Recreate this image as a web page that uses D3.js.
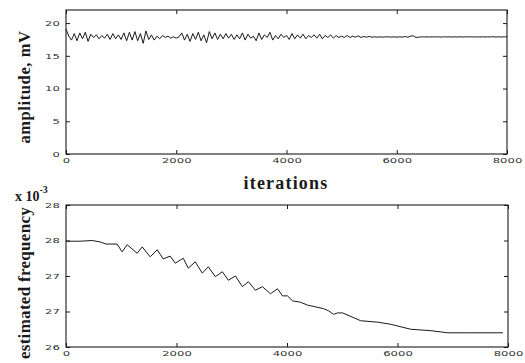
<!DOCTYPE html>
<html><head><meta charset="utf-8">
<script src="https://cdn.jsdelivr.net/npm/d3@7"></script>
<style>body{margin:0;background:#fff} svg{display:block}</style>
</head><body>
<svg id="c" width="525" height="363"></svg>
<script>
// ---- data ----
const iterTicks = [0, 2000, 4000, 6000, 8000];
const ampTicks = [0, 5, 10, 15, 20];
const freqTicks = [26, 26.5, 27, 27.5, 28];
const freqTickLabels = ["26", "27", "27", "28", "28"];
const ampIterStep = 50;
const ampValues = [
 19.1,18.0,17.4,18.4,17.3,18.5,17.6,18.6,17.2,18.3,
 17.8,18.2,17.6,18.1,17.7,18.3,17.5,18.4,17.6,18.2,
 17.5,18.5,17.3,18.6,17.4,18.7,17.3,18.4,16.9,18.8,
 17.5,18.2,17.4,18.0,17.6,18.1,17.8,18.0,17.7,17.9,
 17.7,17.9,18.5,17.4,18.3,17.2,18.4,17.5,18.6,17.3,
 18.2,17.0,18.7,17.6,18.5,17.5,18.3,17.6,18.4,17.7,
 18.3,17.5,18.2,17.6,18.5,17.4,18.3,17.7,18.0,17.3,
 18.5,17.5,18.2,17.8,18.6,17.4,18.1,17.6,18.3,17.8,
 18.1,17.5,18.4,17.6,18.2,17.7,18.3,17.6,18.1,17.8,
 18.2,17.7,18.3,17.6,18.1,17.8,18.2,17.7,18.1,17.8,
 18.0,17.8,18.1,17.8,18.0,17.85,18.05,17.8,17.95,17.85,
 17.95,17.85,17.9,17.85,17.9,17.85,17.9,17.9,17.85,17.9,
 17.85,17.9,17.85,17.95,17.85,18.0,18.05,17.8,17.85,17.9,
 17.88,17.9,17.87,17.9,17.88,17.9,17.86,17.9,17.88,17.9,
 17.87,17.9,17.88,17.9,17.87,17.9,17.88,17.91,17.87,17.9,
 17.88,17.9,17.87,17.9,17.88,17.92,17.87,17.9,17.88,17.9,
 17.89
];
const freqIter = [0,254,472,617,726,925,1016,1107,1288,1379,1524,1651,1760,1887,1977,2122,2213,2340,2467,2576,2703,2830,2939,3066,3193,3301,3428,3555,3701,3828,3918,4009,4100,4245,4372,4662,4753,4843,4916,5007,5333,5641,5877,6240,6603,6911,7274,7909];
const freqValues = [27.49,27.49,27.50,27.48,27.45,27.45,27.34,27.44,27.32,27.41,27.27,27.37,27.24,27.28,27.18,27.25,27.11,27.20,27.04,27.13,26.99,27.06,26.94,27.00,26.85,26.92,26.80,26.85,26.75,26.82,26.72,26.72,26.65,26.63,26.59,26.54,26.51,26.46,26.48,26.48,26.37,26.35,26.32,26.25,26.23,26.20,26.20,26.20];

// ---- drawing ----
const svg = d3.select("#c");
const ink = "#1a1a1a";
const tickFont = "DejaVu Sans";
const serif = "'Liberation Serif','Times New Roman',serif";

function panel(box, yDomain, yTicks, yFmt, xs, ys) {
  const x = d3.scaleLinear().domain([0, 8000]).range([box.x0, box.x1]);
  const y = d3.scaleLinear().domain(yDomain).range([box.y1, box.y0]);
  const g = svg.append("g");
  g.append("rect").attr("x", box.x0).attr("y", box.y0)
    .attr("width", box.x1 - box.x0).attr("height", box.y1 - box.y0)
    .attr("fill", "none").attr("stroke", ink).attr("stroke-width", 1.1);
  const styleTicks = sel => {
    sel.select(".domain").remove();
    sel.selectAll("line").attr("stroke", ink);
  };
  const xb = g.append("g").attr("transform", `translate(0,${box.y1})`)
    .call(d3.axisBottom(x).tickValues(iterTicks).tickSize(-4).tickPadding(4).tickFormat(d3.format("d")));
  styleTicks(xb);
  xb.selectAll("text").attr("font-family", tickFont).attr("font-size", 7.5)
    .attr("fill", "#333").attr("transform", "scale(1.55,1)");
  const xt = g.append("g").attr("transform", `translate(0,${box.y0})`)
    .call(d3.axisTop(x).tickValues(iterTicks).tickSize(-4).tickFormat(""));
  styleTicks(xt);
  const yl = g.append("g").attr("transform", `translate(${box.x0},0)`)
    .call(d3.axisLeft(y).tickValues(yTicks).tickSize(-4).tickPadding(4).tickFormat(yFmt));
  styleTicks(yl);
  yl.selectAll("text").attr("font-family", tickFont).attr("font-size", 7.5)
    .attr("fill", "#333").attr("transform", "scale(1.55,1)");
  const yr = g.append("g").attr("transform", `translate(${box.x1},0)`)
    .call(d3.axisRight(y).tickValues(yTicks).tickSize(-4).tickFormat(""));
  styleTicks(yr);
  const line = d3.line().x(d => x(d[0])).y(d => y(d[1]));
  g.append("path").datum(xs.map((v, i) => [v, ys[i]]))
    .attr("d", line).attr("fill", "none").attr("stroke", ink).attr("stroke-width", 1);
  return {x, y};
}

const ampIter = ampValues.map((_, i) => i * ampIterStep);
panel({x0: 66, x1: 507, y0: 10, y1: 154}, [0, 22], ampTicks, d3.format("d"), ampIter, ampValues);
panel({x0: 66, x1: 508, y0: 205, y1: 347}, [26, 28], freqTicks,
  d => freqTickLabels[freqTicks.indexOf(d)], freqIter, freqValues);

// labels
svg.append("text").attr("transform", "translate(30,87) rotate(-90)")
  .attr("text-anchor", "middle").attr("font-family", serif).attr("font-weight", "bold")
  .attr("font-size", 16.5).attr("letter-spacing", 0.6).attr("fill", ink).text("amplitude, mV");
svg.append("text").attr("transform", "translate(30,283) rotate(-90)")
  .attr("text-anchor", "middle").attr("font-family", serif).attr("font-weight", "bold")
  .attr("font-size", 17).attr("letter-spacing", 0.3).attr("fill", ink).text("estimated frequency");
svg.append("text").attr("x", 286).attr("y", 189)
  .attr("text-anchor", "middle").attr("font-family", serif).attr("font-weight", "bold")
  .attr("font-size", 18).attr("letter-spacing", 1.2).attr("fill", ink).text("iterations");
const xl = svg.append("text").attr("x", 15).attr("y", 201)
  .attr("font-family", serif).attr("font-weight", "bold").attr("font-size", 14).attr("fill", ink);
xl.append("tspan").text("x 10");
xl.append("tspan").attr("dy", -8).attr("font-size", 10).text("-3");
</script>
</body></html>
